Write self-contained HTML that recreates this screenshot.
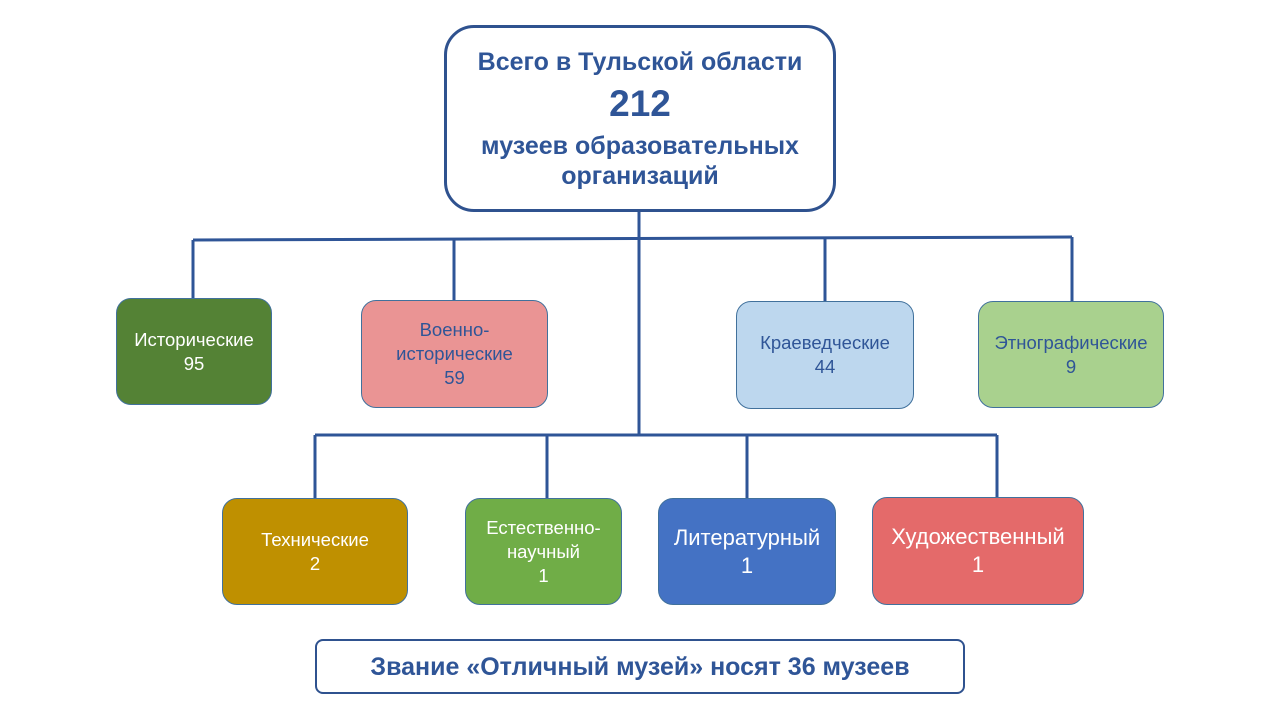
<!DOCTYPE html>
<html><head><meta charset="utf-8"><style>
body{margin:0;width:1280px;height:720px;background:#fff;position:relative;overflow:hidden;font-family:"Liberation Sans","DejaVu Sans",sans-serif}
.b{position:absolute;box-sizing:border-box;border:1.5px solid #41719c;border-radius:15px;display:flex;align-items:center;justify-content:center;text-align:center;font-size:18.5px;line-height:24px}
.w{color:#fff}.u{color:#2F5597}
</style></head><body>
<svg width="1280" height="720" style="position:absolute;left:0;top:0">
<g stroke="#2F5597" stroke-width="3" fill="none">
<line x1="193" y1="240" x2="1072" y2="237"/>
<line x1="639" y1="212" x2="639" y2="435"/>
<line x1="315" y1="435" x2="997" y2="435"/>
<line x1="193" y1="240" x2="193" y2="298"/>
<line x1="454" y1="239" x2="454" y2="300"/>
<line x1="825" y1="238" x2="825" y2="301"/>
<line x1="1072" y1="237" x2="1072" y2="301"/>
<line x1="315" y1="435" x2="315" y2="498"/>
<line x1="547" y1="435" x2="547" y2="498"/>
<line x1="747" y1="435" x2="747" y2="498"/>
<line x1="997" y1="435" x2="997" y2="497"/>
</g></svg>
<div class="b" style="left:444px;top:25px;width:392px;height:187px;border:3px solid #2F528F;border-radius:30px;background:#fff;color:#2F5597;font-weight:bold;font-size:25px;line-height:30px;flex-direction:column">
<div>Всего в Тульской области</div><div style="font-size:37px;line-height:54px">212</div><div>музеев образовательных<br>организаций</div></div>
<div class="b w" style="left:116px;top:298px;width:156px;height:107px;background:#548235">Исторические<br>95</div>
<div class="b u" style="left:361px;top:300px;width:187px;height:108px;background:#EA9494">Военно-<br>исторические<br>59</div>
<div class="b u" style="left:736px;top:301px;width:178px;height:108px;background:#BDD7EE">Краеведческие<br>44</div>
<div class="b u" style="left:978px;top:301px;width:186px;height:107px;background:#A9D18E">Этнографические<br>9</div>
<div class="b w" style="left:222px;top:498px;width:186px;height:107px;background:#BF9000">Технические<br>2</div>
<div class="b w" style="left:465px;top:498px;width:157px;height:107px;background:#70AD47">Естественно-<br>научный<br>1</div>
<div class="b w" style="left:658px;top:498px;width:178px;height:107px;background:#4472C4;font-size:22px;line-height:28px">Литературный<br>1</div>
<div class="b w" style="left:872px;top:497px;width:212px;height:108px;background:#E46A6A;font-size:22px;line-height:28px">Художественный<br>1</div>
<div class="b" style="left:315px;top:639px;width:650px;height:55px;border:2px solid #2F528F;border-radius:8px;color:#2F5597;font-weight:bold;font-size:25px">Звание «Отличный музей» носят 36 музеев</div>
</body></html>
